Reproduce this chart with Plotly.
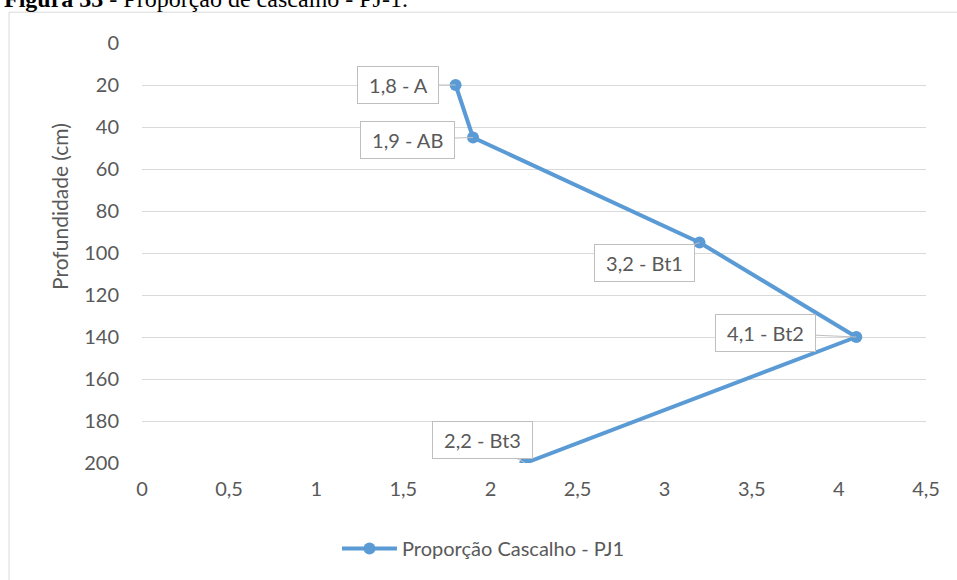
import plotly.graph_objects as go

# Gravel proportion by depth, profile PJ1
proporcao = [1.8, 1.9, 3.2, 4.1, 2.2]
profundidade = [20, 45, 95, 140, 200]
horizontes = ["A", "AB", "Bt1", "Bt2", "Bt3"]
serie_nome = "Proporção Cascalho - PJ1"
legenda_fig = "<b>Figura 33</b> - Proporção de cascalho - PJ-1."

# callout offsets (pixels) of each label box relative to its point
offsets = [(-58, 0), (-66, 2), (-55, 20), (-91, -4), (-43, -23)]

AZUL = "#5B9BD5"
CINZA_TXT = "#595959"
GRADE = "#D9D9D9"
FONTE = "Lato, Carlito, Calibri, sans-serif"
NB = "\u00a0"

fig = go.Figure()
fig.add_trace(go.Scatter(
    x=proporcao, y=profundidade, mode="lines+markers", name=serie_nome,
    line=dict(color=AZUL, width=4),
    marker=dict(color=AZUL, size=12, symbol="circle"),
))

for xv, yv, hz, (ax, ay) in zip(proporcao, profundidade, horizontes, offsets):
    fig.add_annotation(
        x=xv, y=yv, xref="x", yref="y",
        text=NB + f"{xv:.1f}".replace(".", ",") + " - " + hz + NB,
        showarrow=True, arrowhead=0, arrowwidth=1, arrowcolor="#BFBFBF",
        ax=ax, ay=ay, standoff=0,
        bgcolor="white", bordercolor="#BFBFBF", borderwidth=1, borderpad=6,
        font=dict(family=FONTE, size=20, color=CINZA_TXT),
    )

# y-axis title
fig.add_annotation(
    x=-0.1046, y=0.612, xref="paper", yref="paper", showarrow=False,
    xanchor="center", yanchor="middle",
    text="Profundidade (cm)", textangle=-90,
    font=dict(family=FONTE, size=21, color=CINZA_TXT),
)

# figure caption above the chart frame
fig.add_annotation(
    x=-0.1786, y=1.104, xref="paper", yref="paper", showarrow=False,
    xanchor="left", yanchor="middle", text=legenda_fig,
    font=dict(family="Liberation Serif, Times New Roman, serif", size=24, color="black"),
)

# chart frame
fig.add_shape(type="rect", xref="paper", yref="paper",
              x0=-0.1696, y0=-0.30, x1=1.06, y1=1.0733,
              line=dict(color=GRADE, width=1), fillcolor="rgba(0,0,0,0)", layer="below")

fig.update_layout(
    width=957, height=580,
    margin=dict(l=142, r=31, t=43, b=114),
    paper_bgcolor="white", plot_bgcolor="white",
    separators=",.",
    font=dict(family=FONTE, size=20, color=CINZA_TXT),
    showlegend=True,
    legend=dict(orientation="h", x=0.2487, xanchor="left", y=-0.2033, yanchor="middle",
                font=dict(family=FONTE, size=20, color=CINZA_TXT), itemwidth=55),
    xaxis=dict(range=[0, 4.5], dtick=0.5, tick0=0, showgrid=False, zeroline=False,
               showline=False, ticks="", ticklabelstandoff=12,
               tickfont=dict(family=FONTE, size=20, color=CINZA_TXT)),
    yaxis=dict(range=[200, 0], dtick=20, tick0=0, showgrid=True, gridcolor=GRADE,
               gridwidth=1, zeroline=False, showline=False, ticks="",
               ticklabelstandoff=22,
               tickfont=dict(family=FONTE, size=20, color=CINZA_TXT)),
)

fig.write_html("out.html")
